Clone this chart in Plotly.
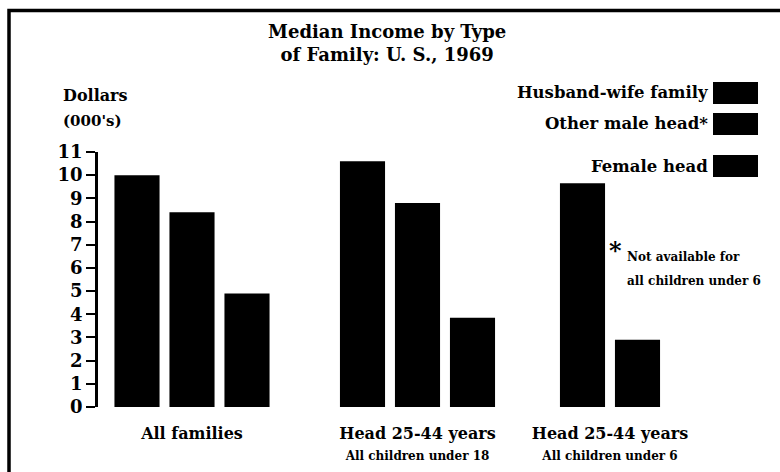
import plotly.graph_objects as go

# ---- data ----
groups = ["All families", "Head 25-44 years", "Head 25-44 years"]
group_subtitles = ["", "All children under 18", "All children under 6"]
series_names = ["Husband-wife family", "Other male head*", "Female head"]
husband_wife = [10.0, 10.6, 9.65]
other_male = [8.4, 8.8, None]   # not available for group 3
female_head = [4.9, 3.85, 2.9]
y_ticks = list(range(0, 12))

series_values = [husband_wife, other_male, female_head]

# ---- layout geometry (pixels) ----
W, H = 780, 472
ML, MR, MT, MB = 98, 80, 152, 65
PW, PH = W - ML - MR, H - MT - MB
group_centers = [0.0, 4.1, 7.6]   # in bar-slot units
slot = 1.0
bar_width = 0.82
px_per_unit = 55.0
x0_px = 192.0
x_range = [(ML - x0_px) / px_per_unit, (W - MR - x0_px) / px_per_unit]

# compute bar positions: pack available bars within each group
xs = [[None] * len(groups) for _ in series_values]
for g in range(len(groups)):
    present = [s for s in range(len(series_values)) if series_values[s][g] is not None]
    n = len(present)
    for k, s in enumerate(present):
        xs[s][g] = group_centers[g] + (k - (n - 1) / 2) * slot

FONT = "DejaVu Serif"
fig = go.Figure()
for s, name in enumerate(series_names):
    px_x = [xs[s][g] for g in range(len(groups)) if series_values[s][g] is not None]
    px_y = [v for v in series_values[s] if v is not None]
    fig.add_trace(go.Bar(x=px_x, y=px_y, name=name, width=bar_width,
                         marker=dict(color="black", line=dict(width=0)),
                         showlegend=False, hoverinfo="skip"))

ticktext = []
for g, sub in zip(groups, group_subtitles):
    t = "<b>" + g + "</b>"
    if sub:
        t += "<br><span style='font-size:12px'><b>" + sub + "</b></span>"
    ticktext.append(t)


def px2x(px):
    return (px - ML) / PW


def px2y(py):
    return (H - MB - py) / PH


def ann(text, px, py, size, xanchor="left", yanchor="middle", bold=True, align="left"):
    return dict(text=("<b>" + text + "</b>") if bold else text,
                x=px2x(px), y=px2y(py), xref="paper", yref="paper",
                xanchor=xanchor, yanchor=yanchor, showarrow=False, align=align,
                font=dict(family=FONT, size=size, color="black"))


annotations = [
    ann("Median Income by Type<br>of Family: U. S., 1969", 387, 19, 18,
        xanchor="center", yanchor="top", align="center"),
    ann("Dollars", 61, 96, 16),
    ann("(000's)", 61, 121, 15),
    ann("*", 607, 250, 24),
    ann("Not available for", 625, 257, 12),
    ann("all children under 6", 625, 281, 12),
]

legend_y_px = [93, 124, 166]
shapes = []
for name, ly in zip(series_names, legend_y_px):
    annotations.append(ann(name, 710, ly, 16.5, xanchor="right"))
    shapes.append(dict(type="rect", xref="paper", yref="paper",
                       x0=px2x(713), x1=px2x(758), y0=px2y(ly + 11), y1=px2y(ly - 11),
                       fillcolor="black", line=dict(width=0)))

# page border (left and top visible, extends past right/bottom)
shapes.append(dict(type="rect", xref="paper", yref="paper",
                   x0=px2x(9), x1=px2x(800), y0=px2y(490), y1=px2y(10.5),
                   line=dict(color="black", width=3.5), fillcolor="rgba(0,0,0,0)", layer="above"))

fig.update_layout(
    width=W, height=H,
    margin=dict(l=ML, r=MR, t=MT, b=MB),
    paper_bgcolor="white", plot_bgcolor="white",
    annotations=annotations, shapes=shapes,
    showlegend=False,
    xaxis=dict(range=x_range, tickvals=group_centers, ticktext=ticktext,
               showgrid=False, zeroline=False, showline=False, ticks="",
               ticklabelstandoff=15, automargin=False,
               tickfont=dict(family=FONT, size=16, color="black"), fixedrange=True),
    yaxis=dict(range=[0, 11], tickvals=y_ticks, showgrid=False, zeroline=False,
               showline=True, linecolor="black", linewidth=2.5, automargin=False,
               ticks="outside", ticklen=9, tickwidth=2, tickcolor="black",
               tickfont=dict(family=FONT, size=18, color="black", weight="bold"),
               fixedrange=True),
)

fig.write_html("out.html", config={"displayModeBar": False},
               post_script="document.body.style.margin='0px';")
